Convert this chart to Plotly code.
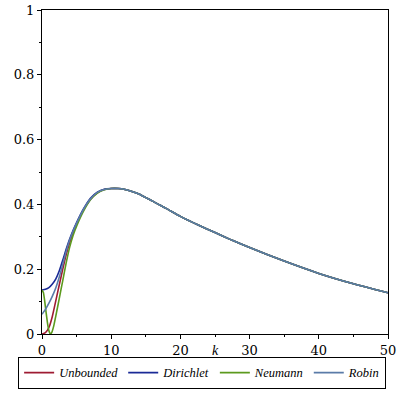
import plotly.graph_objects as go

# Data
k_left = [0, 0.5, 1, 1.5, 2, 2.5, 3, 3.5, 4, 4.5, 5, 6, 7, 8, 9, 10]
unbounded_left = [0.0, 0.004, 0.02, 0.055, 0.103, 0.152, 0.2, 0.245, 0.282, 0.313, 0.339, 0.383, 0.416, 0.436, 0.446, 0.449]
dirichlet_left = [0.136, 0.138, 0.143, 0.154, 0.17, 0.195, 0.228, 0.262, 0.293, 0.32, 0.344, 0.386, 0.419, 0.438, 0.447, 0.449]
robin_left = [0.061, 0.076, 0.095, 0.117, 0.143, 0.176, 0.215, 0.255, 0.29, 0.318, 0.342, 0.385, 0.417, 0.437, 0.446, 0.449]

k_neumann_left = [0, 0.2, 0.4, 0.6, 0.8, 1.0, 1.2, 1.4, 1.7, 2.0, 2.5, 3.0, 3.5, 4, 4.5, 5, 6, 7, 8, 9, 10]
neumann_left = [0.135, 0.128, 0.1, 0.065, 0.033, 0.01, 0.0, 0.004, 0.025, 0.056, 0.11, 0.165, 0.22, 0.268, 0.305, 0.333, 0.379, 0.414, 0.435, 0.445, 0.449]

k_tail = [11, 12, 13, 14, 15, 16, 17, 18, 20, 22.5, 25, 27.5, 30, 35, 40, 45, 50]
tail = [0.449, 0.446, 0.44, 0.432, 0.421, 0.41, 0.398, 0.387, 0.363, 0.337, 0.313, 0.289, 0.267, 0.225, 0.187, 0.155, 0.127]

names = ["Unbounded", "Dirichlet", "Neumann", "Robin"]
colors = ["#9E1B32", "#1A2A96", "#5C9A1E", "#5A7BA8"]
x_label = "k"

series = [
    (k_left + k_tail, unbounded_left + tail),
    (k_left + k_tail, dirichlet_left + tail),
    (k_neumann_left + k_tail, neumann_left + tail),
    (k_left + k_tail, robin_left + tail),
]

fig = go.Figure()
for name, color, (xs, ys) in zip(names, colors, series):
    fig.add_trace(go.Scatter(
        x=xs, y=ys, mode="lines", name=name,
        line=dict(color=color, width=1.6, shape="spline", smoothing=0.5),
    ))

serif = "DejaVu Serif"
legend_font = "Liberation Serif"
fig.update_layout(
    width=399, height=399,
    margin=dict(l=42, r=11, t=10, b=59),
    paper_bgcolor="white", plot_bgcolor="white",
    font=dict(family=serif, size=12, color="black"),
    showlegend=True,
    legend=dict(
        orientation="h", x=-0.069, xanchor="left", y=-0.1697, yanchor="bottom",
        bordercolor="black", borderwidth=1,
        font=dict(family=legend_font, size=12.5, style="italic", color="black"),
        tracegroupgap=0, itemclick=False,
    ),
    xaxis=dict(
        range=[0, 50], showgrid=False, zeroline=False, automargin=False,
        showline=True, linecolor="black", linewidth=1, mirror=True,
        ticks="outside", ticklen=4, tickcolor="black", dtick=10,
        minor=dict(ticks="outside", ticklen=2, dtick=5, tickcolor="black"),
        tickfont=dict(family=serif, size=13),
    ),
    yaxis=dict(
        range=[0, 1], showgrid=False, zeroline=False, automargin=False,
        showline=True, linecolor="black", linewidth=1, mirror=True,
        ticks="outside", ticklen=4, tickcolor="black", dtick=0.2,
        minor=dict(ticks="outside", ticklen=2, dtick=0.1, tickcolor="black"),
        tickfont=dict(family=serif, size=13),
    ),
    annotations=[dict(
        text=x_label, xref="paper", yref="paper", x=0.5, y=-0.052,
        xanchor="center", yanchor="middle", showarrow=False,
        font=dict(family=legend_font, size=14, style="italic", color="black"),
    )],
)

fig.write_html(
    "out.html",
    config={"displayModeBar": False},
    post_script="document.body.style.margin='0px';",
)
